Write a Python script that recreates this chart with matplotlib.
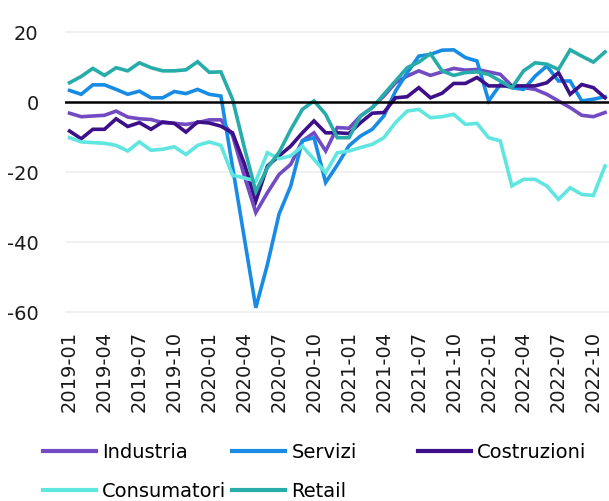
import matplotlib
matplotlib.use("Agg")
import matplotlib.pyplot as plt
from matplotlib.lines import Line2D
import pandas as pd

months = pd.date_range("2019-01-01", periods=47, freq="MS").strftime("%Y-%m").tolist()

industria = [-3.2, -4.2, -4.0, -3.8, -2.6, -4.3, -4.8, -5.0, -5.9, -6.1, -6.4, -5.9,
             -5.1, -5.1, -9.5, -21.0, -31.6, -25.9, -20.7, -17.8, -11.1, -8.8, -14.0, -7.3,
             -7.5, -4.0, -1.6, 1.7, 5.5, 7.4, 8.9, 7.6, 8.6, 9.6, 9.1, 9.3,
             8.6, 7.9, 4.6, 4.1, 3.6, 2.2, 0.3, -1.6, -3.8, -4.2, -3.0]
servizi = [3.3, 2.2, 4.9, 4.9, 3.6, 2.2, 3.1, 1.2, 1.2, 3.0, 2.4, 3.6,
           2.2, 1.7, -18.5, -38.6, -58.8, -46.4, -32.0, -24.0, -11.1, -10.2, -23.0, -18.0,
           -12.5, -9.7, -7.8, -4.0, 3.1, 8.3, 13.1, 13.6, 14.8, 14.9, 12.7, 11.7,
           0.3, 5.0, 4.1, 3.6, 7.4, 10.3, 6.0, 6.0, 0.3, 0.8, 1.5]
costruzioni = [-8.3, -10.5, -7.8, -7.8, -4.8, -7.0, -5.9, -7.8, -5.7, -6.1, -8.6, -5.7,
               -6.0, -6.9, -8.8, -17.5, -28.3, -18.3, -15.4, -12.6, -8.8, -5.4, -8.8, -8.8,
               -9.0, -5.9, -3.2, -3.0, 1.2, 1.5, 4.1, 1.2, 2.5, 5.3, 5.3, 7.0,
               4.6, 4.6, 4.6, 4.6, 4.6, 5.5, 8.4, 2.2, 5.0, 4.1, 1.2]
consumatori = [-10.2, -11.4, -11.6, -11.8, -12.4, -14.0, -11.4, -13.8, -13.5, -12.8, -15.0, -12.4,
               -11.4, -12.4, -20.9, -21.7, -22.6, -14.5, -16.2, -15.4, -12.6, -16.4, -20.2, -14.5,
               -14.0, -13.0, -12.1, -10.2, -5.9, -2.6, -2.1, -4.5, -4.2, -3.5, -6.4, -6.1,
               -10.2, -11.1, -24.0, -22.1, -22.1, -24.0, -27.8, -24.5, -26.4, -26.7, -18.3]
retail = [5.5, 7.3, 9.6, 7.6, 9.8, 8.9, 11.2, 9.8, 8.9, 8.9, 9.2, 11.5,
          8.5, 8.6, 0.8, -12.8, -25.6, -18.8, -14.4, -7.9, -2.1, 0.3, -3.5, -10.2,
          -10.2, -4.0, -1.6, 2.2, 6.0, 9.8, 11.4, 13.8, 8.9, 7.6, 8.4, 8.6,
          7.9, 6.0, 4.1, 8.9, 11.2, 10.8, 9.3, 14.9, 13.1, 11.4, 14.3]

series_names = ["Industria", "Servizi", "Costruzioni", "Consumatori", "Retail"]
series_values = [industria, servizi, costruzioni, consumatori, retail]
colors = ["#724BC3", "#188CE5", "#3D108A", "#60E6E1", "#27ACAA"]
yticks = [20, 0, -20, -40, -60]

plt.rcParams['font.family'] = ['DejaVu Sans']
plt.rcParams['font.size'] = 14

fig = plt.figure(figsize=(6.09, 5.02), dpi=100)
ax = fig.add_axes([65/609, 1 - 320/502, 544/609, 294/502])

x = list(range(len(months)))
for name, vals, c in zip(series_names, series_values, colors):
    ax.plot(x, vals, color=c, lw=2.6, solid_joinstyle='miter', label=name, zorder=3)

ax.axhline(0, color='black', lw=1.8, zorder=4)
for yv in yticks:
    if yv != 0:
        ax.axhline(yv, color='#EFEFEF', lw=1.3, zorder=1)

ax.set_ylim(-62, 22)
ax.set_xlim(-0.39, 46.34)
ax.set_yticks(yticks)
ax.set_yticklabels([str(v) for v in yticks])
ax.set_xticks(x[::3])
ax.set_xticklabels(months[::3], rotation=90)
ax.tick_params(axis='both', length=0, labelsize=14, colors='#1a1a1a')
ax.tick_params(axis='y', pad=19)
ax.tick_params(axis='x', pad=8)
for s in ax.spines.values():
    s.set_visible(False)

# legend entries
pos = [(43, 453), (232, 453), (418, 453), (43, 492), (232, 492)]
for (px, py), name, c in zip(pos, series_names, colors):
    h = Line2D([], [], color=c, lw=3)
    leg = fig.legend([h], [name], loc='center left',
                     bbox_to_anchor=(px/609, 1 - py/502),
                     frameon=False, handlelength=2.75, handletextpad=0.3,
                     borderpad=0, borderaxespad=0, fontsize=14)

fig.savefig("out.png", dpi=100)
